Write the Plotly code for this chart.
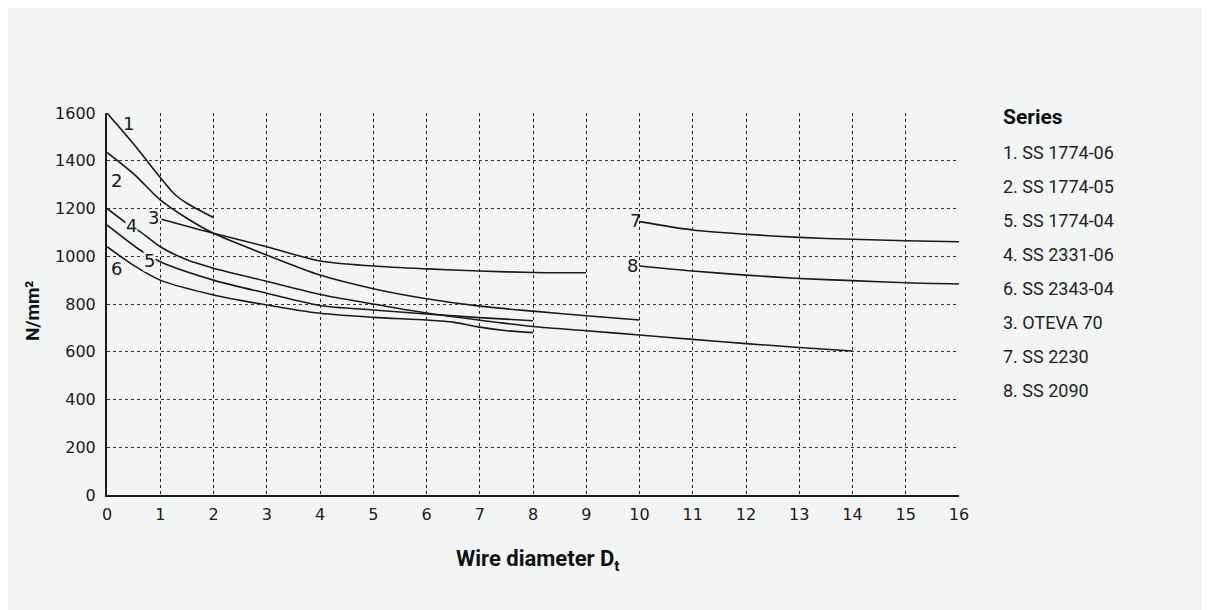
import plotly.graph_objects as go

# ---------------- data ----------------
x1 = [0, 0.5, 1, 1.25, 1.5, 2]
y1 = [1600, 1470, 1330, 1264, 1222, 1162]

x2 = [0, 0.5, 1, 1.5, 2, 3, 4, 5, 6, 7, 8, 9, 10]
y2 = [1435, 1345, 1236, 1159, 1096, 1005, 921, 864, 822, 791, 770, 751, 733]

x3 = [1.02, 2, 3, 4, 5, 6, 7, 8, 9]
y3 = [1155, 1096, 1040, 980, 959, 947, 938, 932, 931]

x4 = [0, 0.37, 0.62, 1, 1.5, 2, 3, 4, 5, 6, 7, 8, 9, 10, 11, 12, 13, 14]
y4 = [1200, 1138, 1103, 1040, 985, 950, 895, 840, 800, 762, 732, 706, 688, 670, 652, 634, 618, 603]

x5 = [0, 0.62, 1, 2, 3, 4, 5, 6, 7, 8]
y5 = [1131, 1026, 977, 900, 845, 794, 775, 758, 743, 730]

x6 = [0, 0.5, 1, 2, 3, 4, 5, 6, 6.5, 7, 7.5, 8]
y6 = [1040, 962, 900, 838, 796, 761, 744, 733, 724, 703, 688, 680]

x7 = [10, 11, 12, 13, 14, 15, 16]
y7 = [1145, 1110, 1092, 1079, 1071, 1065, 1061]

x8 = [10, 11, 12, 13, 14, 15, 16]
y8 = [959, 938, 921, 907, 898, 889, 884]

curve_ids = ["1", "2", "3", "4", "5", "6", "7", "8"]
curve_x = [x1, x2, x3, x4, x5, x6, x7, x8]
curve_y = [y1, y2, y3, y4, y5, y6, y7, y8]
label_x = [0.41, 0.17, 0.87, 0.46, 0.79, 0.17, 9.92, 9.87]
label_y = [1557, 1317, 1162, 1127, 984, 947, 1149, 960]
label_bg = [False, False, False, True, True, False, False, False]

legend_title = "Series"
legend_items = ["1. SS 1774-06", "2. SS 1774-05", "5. SS 1774-04", "4. SS 2331-06",
                "6. SS 2343-04", "3. OTEVA 70", "7. SS 2230", "8. SS 2090"]

x_ticks = list(range(0, 17))
y_ticks = list(range(0, 1601, 200))
base_bar_x = [6.1, 16]   # darker stretch of the baseline seen in the source

BG = "#f3f4f4"
INK = "#1a1a1a"

# figure geometry (page is offset by 8px body margin)
OFF = 8
FW, FH = 1202, 602
L, T = 107 - OFF, 113 - OFF
R = FW - (959 - OFF)
B = FH - (495 - OFF)
W = FW - L - R
H = FH - T - B


def px2paper(px, py):
    """page pixel -> paper coordinates"""
    fx, fy = px - OFF, py - OFF
    return (fx - L) / W, (FH - B - fy) / H


fig = go.Figure()
for cid, xs, ys in zip(curve_ids, curve_x, curve_y):
    fig.add_trace(go.Scatter(x=xs, y=ys, mode="lines", name=cid,
                             line=dict(color=INK, width=1.6, shape="spline", smoothing=0.8),
                             showlegend=False, hoverinfo="skip"))

ann = []
for cid, lx, ly, bg in zip(curve_ids, label_x, label_y, label_bg):
    ann.append(dict(x=lx, y=ly, xref="x", yref="y", text=cid, showarrow=False,
                    font=dict(family="DejaVu Sans", size=18, color=INK),
                    bgcolor=BG if bg else "rgba(0,0,0,0)", borderpad=0,
                    xanchor="center", yanchor="middle"))

lx0, ly0 = px2paper(1001, 117)
ann.append(dict(x=lx0, y=ly0, xref="paper", yref="paper", text="<b>" + legend_title + "</b>",
                showarrow=False, xanchor="left", yanchor="middle",
                font=dict(family="Roboto", size=21, color="#111")))
for i, t in enumerate(legend_items):
    px_, py_ = px2paper(1001, 152 + 34.1 * i)
    ann.append(dict(x=px_, y=py_, xref="paper", yref="paper", text=t, showarrow=False,
                    xanchor="left", yanchor="middle",
                    font=dict(family="Roboto", size=18, color="#222")))

tx, ty = px2paper(538, 560)
ann.append(dict(x=tx, y=ty, xref="paper", yref="paper", text="<b>Wire diameter D<sub>t</sub></b>",
                showarrow=False, xanchor="center", yanchor="middle",
                font=dict(family="Roboto", size=22, color="#111")))
ax_, ay_ = px2paper(32, 311)
ann.append(dict(x=ax_, y=ay_, xref="paper", yref="paper", text="<b>N/mm²</b>",
                showarrow=False, xanchor="center", yanchor="middle", textangle=-90,
                font=dict(family="Roboto", size=19, color="#111")))

shapes = [dict(type="line", xref="x", yref="y", x0=base_bar_x[0], x1=base_bar_x[1], y0=-4, y1=-4,
               line=dict(color="#333", width=2), layer="above")]

fig.update_layout(
    width=FW, height=FH,
    margin=dict(l=L, r=R, t=T, b=B),
    paper_bgcolor=BG, plot_bgcolor=BG,
    showlegend=False,
    annotations=ann, shapes=shapes,
)

fig.update_xaxes(range=[0, 16], tickvals=x_ticks, ticktext=[str(v) for v in x_ticks],
                 showgrid=True, gridcolor="#222", griddash="3px,3px", gridwidth=1,
                 showline=True, linecolor=INK, linewidth=2, zeroline=False,
                 ticks="", ticklabelstandoff=4,
                 tickfont=dict(family="DejaVu Sans", size=16, color=INK))
fig.update_yaxes(range=[0, 1600], tickvals=y_ticks, ticktext=[str(v) for v in y_ticks],
                 showgrid=True, gridcolor="#333", griddash="3px,3px", gridwidth=1,
                 showline=True, linecolor=INK, linewidth=2, zeroline=False,
                 ticks="", ticklabelstandoff=6,
                 tickfont=dict(family="DejaVu Sans", size=16, color=INK))

fig.write_html("out.html")
